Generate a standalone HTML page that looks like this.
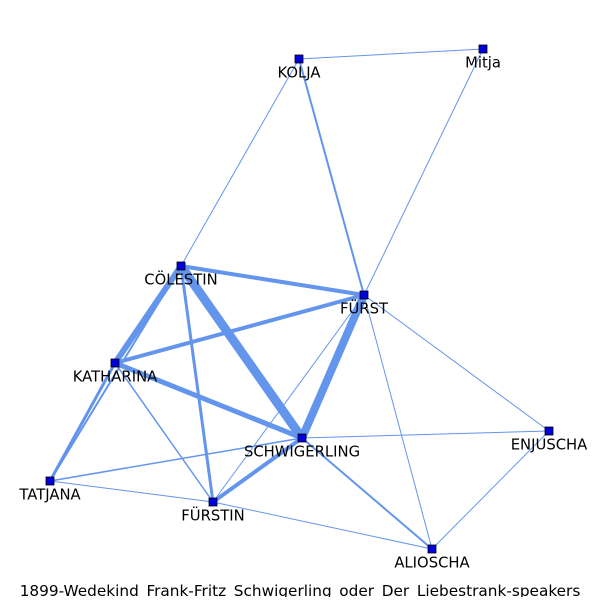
<!DOCTYPE html>
<html><head><meta charset="utf-8"><style>body{margin:0;background:#fff;overflow:hidden}svg{display:block}text{font-family:"DejaVu Sans","Liberation Sans",sans-serif}</style></head>
<body>
<svg id="chart" width="600" height="600" viewBox="0 0 600 600">
<defs><clipPath id="tc"><rect x="0" y="560" width="600" height="37"/></clipPath></defs>
<g id="edges"></g>
<g id="nodes"></g>
<text x="300" y="596" clip-path="url(#tc)" text-anchor="middle" font-size="15.3" fill="#000">1899-Wedekind_Frank-Fritz_Schwigerling_oder_Der_Liebestrank-speakers</text>
</svg>
<script>
const nodeNames = ["KOLJA","Mitja","CÖLESTIN","FÜRST","KATHARINA","SCHWIGERLING","ENJUSCHA","TATJANA","FÜRSTIN","ALIOSCHA"];
const nodeX = [299,483,181,364,115,302,549,50,213,432];
const nodeY = [59,49,266,295,363,438,431,481,502,549];
const edgeSource = ["KOLJA","KOLJA","KOLJA","Mitja","CÖLESTIN","CÖLESTIN","CÖLESTIN","CÖLESTIN","CÖLESTIN","FÜRST","FÜRST","FÜRST","FÜRST","FÜRST","KATHARINA","KATHARINA","KATHARINA","SCHWIGERLING","SCHWIGERLING","SCHWIGERLING","SCHWIGERLING","TATJANA","FÜRSTIN","ENJUSCHA"];
const edgeTarget = ["Mitja","CÖLESTIN","FÜRST","FÜRST","FÜRST","KATHARINA","SCHWIGERLING","FÜRSTIN","TATJANA","KATHARINA","SCHWIGERLING","FÜRSTIN","ENJUSCHA","ALIOSCHA","SCHWIGERLING","TATJANA","FÜRSTIN","FÜRSTIN","ENJUSCHA","ALIOSCHA","TATJANA","FÜRSTIN","ALIOSCHA","ALIOSCHA"];
const edgeWeight = [1,1,2,1,4,6,9,3,2,4,8,1,1,1,5,3,1.5,4,1,2,1.5,1,1,1];
const ns="http://www.w3.org/2000/svg";
const eg=document.getElementById('edges'), ng=document.getElementById('nodes');
function idx(n){return nodeNames.indexOf(n);}
edgeSource.forEach((s,i)=>{
  const a=idx(s),b=idx(edgeTarget[i]);
  const l=document.createElementNS(ns,'line');
  l.setAttribute('x1',nodeX[a]);l.setAttribute('y1',nodeY[a]);
  l.setAttribute('x2',nodeX[b]);l.setAttribute('y2',nodeY[b]);
  l.setAttribute('stroke','#6495ed');l.setAttribute('stroke-width',edgeWeight[i]);
  
  
  eg.appendChild(l);
});
nodeNames.forEach((n,i)=>{
  const r=document.createElementNS(ns,'rect');
  r.setAttribute('x',nodeX[i]-4);r.setAttribute('y',nodeY[i]-4);
  r.setAttribute('width',8);r.setAttribute('height',8);
  r.setAttribute('fill','#0000dd');r.setAttribute('stroke','#000');r.setAttribute('stroke-width','0.8');
  
  
  ng.appendChild(r);
  const t=document.createElementNS(ns,'text');
  t.setAttribute('x',nodeX[i]);t.setAttribute('y',nodeY[i]+18.5);
  t.setAttribute('text-anchor','middle');t.setAttribute('font-size','14.8');
  t.textContent=n;
  
  
  ng.appendChild(t);
});
</script>
</body></html>
